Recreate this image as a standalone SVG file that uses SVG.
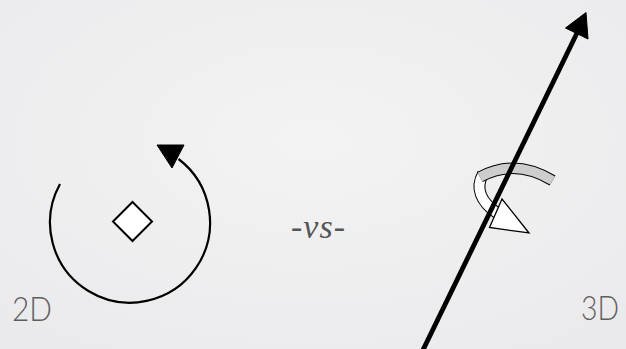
<svg xmlns="http://www.w3.org/2000/svg" width="626" height="349" viewBox="0 0 626 349">
  <defs>
    <radialGradient id="bg" cx="50%" cy="40%" r="75%">
      <stop offset="0" stop-color="#f3f3f4"/>
      <stop offset="1" stop-color="#eaeaec"/>
    </radialGradient>
    <style>
      .lbl { font-family: Lato, "Open Sans", "Liberation Sans", sans-serif; font-weight: 300; font-size: 33px; fill: #5f5f5f; }
      .vs { font-family: "Liberation Serif", "DejaVu Serif", serif; font-style: italic; font-size: 34px; fill: #555555; }
      .ln { fill: none; stroke: #000; stroke-linecap: butt; }
      .hd { fill: #000; stroke: #000; stroke-width: 1; stroke-linejoin: miter; }
    </style>
  </defs>
  <rect x="0" y="0" width="626" height="349" fill="url(#bg)"/>

  <g id="rotation2d">
    <path class="ln" stroke-width="2.2" d="M 60 184 A 80 80 0 1 0 178.5 159"/>
    <polygon class="hd" points="157,145 184,145 172,168"/>
  </g>

  <g id="pivot">
    <polygon points="132.5,202 152,221.5 132.5,241 113,221.5" fill="#ffffff" stroke="#000" stroke-width="2" stroke-linejoin="miter"/>
  </g>

  <g id="rotation3d">
    <!-- white shaft -->
    <path d="M 483 174 C 475 188 481 202 497 213" fill="none" stroke="#000" stroke-width="12"/>
    <path d="M 483 174 C 475 188 481 202 497 213" fill="none" stroke="#ffffff" stroke-width="10"/>
    <!-- gray band -->
    <path d="M 552.5 180.5 Q 515 158 480 177" fill="none" stroke="#000" stroke-width="11.5"/>
    <path d="M 552.5 180.5 Q 515 158 480 177" fill="none" stroke="#cdcdcd" stroke-width="9.5"/>
    <polygon points="502,199 489.5,227.5 529,233" fill="#ffffff" stroke="#000" stroke-width="1.3" stroke-linejoin="miter"/>
  </g>

  <g id="axis">
    <path class="ln" stroke-width="4.8" d="M 422 352 L 578 31"/>
    <polygon class="hd" points="586,12.5 565.5,28 588,39"/>
  </g>

  <g id="labels">
    <text class="lbl" x="12" y="320.5" textLength="40" lengthAdjust="spacingAndGlyphs">2D</text>
    <text class="lbl" x="581" y="320" textLength="38" lengthAdjust="spacingAndGlyphs">3D</text>
    <text class="vs" x="291" y="238" textLength="54" lengthAdjust="spacing">-vs-</text>
  </g>
</svg>
